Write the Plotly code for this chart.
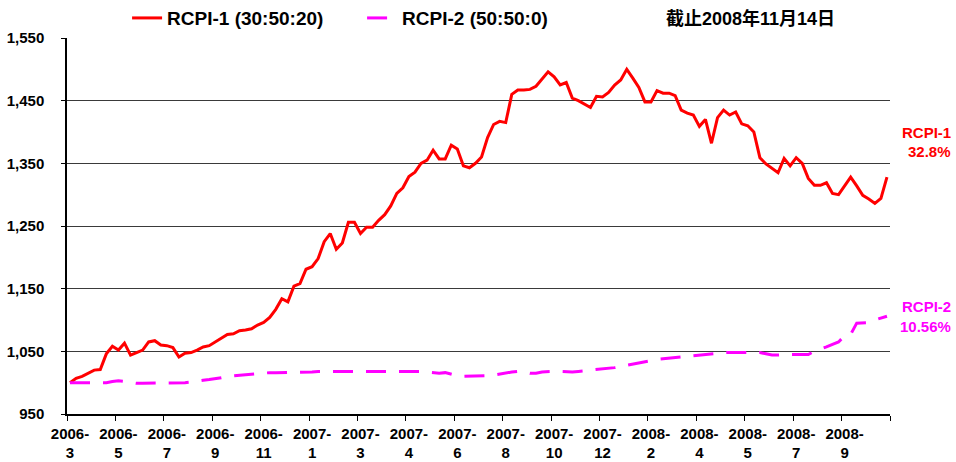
import plotly.graph_objects as go

# weekly index values (base = 1000)
rcpi1 = [
    1000, 1007, 1010, 1015, 1020, 1021, 1046, 1058, 1052, 1063,
    1044, 1048, 1052, 1065, 1067, 1060, 1059, 1056, 1041, 1047,
    1048, 1052, 1057, 1059, 1065, 1071, 1077, 1078, 1083, 1084,
    1086, 1092, 1096, 1104, 1117, 1134, 1129, 1154, 1158, 1181,
    1185, 1198, 1225, 1238, 1213, 1223, 1256, 1256, 1238, 1248,
    1248, 1259, 1268, 1282, 1302, 1311, 1329, 1336, 1350, 1355,
    1371, 1357, 1357, 1379, 1373, 1346, 1343, 1350, 1360, 1391,
    1412, 1417, 1415, 1460, 1467, 1467, 1468, 1473, 1485, 1496,
    1488, 1475, 1479, 1454, 1450, 1445, 1439, 1457, 1456, 1463,
    1475, 1483, 1500, 1486, 1471, 1448, 1448, 1466, 1462, 1462,
    1458, 1435, 1430, 1427, 1409, 1420, 1382, 1423, 1435, 1427,
    1432, 1413, 1410, 1400, 1359, 1349, 1342, 1335, 1358, 1346,
    1359, 1350, 1326, 1315, 1315, 1319, 1302, 1300, 1314, 1328,
    1314, 1299, 1293, 1286, 1294, 1328,
]
rcpi2 = [
    1000, 1000, 1000, 1000, 1000, 1000, 1000, 1002, 1003, 1002,
    1000, 999, 999, 999, 1000, 1000, 999, 999, 999, 1000,
    1001, 1003, 1004, 1005, 1006, 1008, 1010, 1011, 1012, 1013,
    1014, 1015, 1016, 1016, 1016, 1016, 1016, 1017, 1017, 1017,
    1017, 1018, 1018, 1019, 1018, 1019, 1019, 1018, 1019, 1019,
    1019, 1019, 1019, 1019, 1019, 1019, 1019, 1018, 1018, 1017,
    1016, 1015, 1016, 1013, 1011, 1010, 1010, 1010, 1010, 1011,
    1012, 1014, 1016, 1017, 1018, 1018, 1015, 1015, 1017, 1018,
    1018, 1018, 1017, 1017, 1018, 1019, 1020, 1020, 1021, 1022,
    1024, 1026, 1028, 1030, 1032, 1034, 1036, 1037, 1038, 1039,
    1040, 1041, 1043, 1044, 1045, 1046, 1046, 1047, 1048, 1048,
    1048, 1048, 1049, 1049, 1048, 1046, 1044, 1044, 1045, 1045,
    1045, 1045, 1045, 1050, 1053, 1057, 1061, 1065, 1075, 1077,
    1095, 1095, 1096, 1100, 1103, 1106,
]
week = list(range(len(rcpi1)))

# category labels, one every 8 weeks
tick_labels = [
    "2006-<br>3", "2006-<br>5", "2006-<br>7", "2006-<br>9", "2006-<br>11",
    "2007-<br>1", "2007-<br>3", "2007-<br>4", "2007-<br>6", "2007-<br>8",
    "2007-<br>10", "2007-<br>12", "2008-<br>2", "2008-<br>4", "2008-<br>5",
    "2008-<br>7", "2008-<br>9",
]
tick_pos = [8 * k for k in range(len(tick_labels))]

FONT = "Liberation Sans, Arial, Noto Sans CJK SC, sans-serif"

fig = go.Figure()
fig.add_scatter(x=week, y=rcpi1, mode="lines", name="<b>RCPI-1 (30:50:20)</b>",
                line=dict(color="#ff0000", width=3))
fig.add_scatter(x=week, y=rcpi2, mode="lines", name="<b>RCPI-2 (50:50:0)</b>",
                line=dict(color="#ff00ff", width=3, dash="20px,13px"))

fig.update_layout(
    width=956, height=462,
    margin=dict(l=67, r=66, t=38, b=48, autoexpand=False),
    paper_bgcolor="white", plot_bgcolor="white",
    font=dict(family=FONT, color="black", size=15),
    showlegend=True,
    legend=dict(orientation="h", x=0.073, y=1.053, xanchor="left", yanchor="middle",
                font=dict(size=19, family=FONT), entrywidth=190,
                bgcolor="rgba(0,0,0,0)"),
    hovermode=False,
)
fig.update_xaxes(
    range=[-0.5, 135.5], tickmode="array", tickvals=tick_pos,
    ticktext=["<b>" + t + "</b>" for t in tick_labels],
    ticks="", showgrid=False, zeroline=False, automargin=False,
    showline=True, linecolor="black", linewidth=1.5,
    tickfont=dict(size=15, family=FONT), ticklabelstandoff=5,
    minor=dict(tickmode="array", tickvals=[p - 0.5 for p in tick_pos] + [135.5],
               ticks="outside", ticklen=5, tickcolor="black", tickwidth=1.2, showgrid=False),
)
fig.update_yaxes(
    range=[950, 1550], tickmode="linear", tick0=950, dtick=100, tickformat=",",
    tickprefix="<b>", ticksuffix="</b>",
    showgrid=True, gridcolor="#3a3a3a", gridwidth=1.2, zeroline=False, automargin=False,
    showline=True, linecolor="black", linewidth=1.5,
    ticks="outside", ticklen=4, tickcolor="black",
    tickfont=dict(size=15, family=FONT), ticklabelstandoff=14,
)

fig.add_annotation(xref="paper", yref="paper", x=0.83, y=1.053, text="<b>截止2008年11月14日</b>",
                   showarrow=False, font=dict(size=18, family=FONT, color="black"),
                   xanchor="center", yanchor="middle")
for label, yv, col in [("RCPI-1", 1400, "#ff0000"), ("32.8%", 1369, "#ff0000"),
                       ("RCPI-2", 1122, "#ff00ff"), ("10.56%", 1090, "#ff00ff")]:
    fig.add_annotation(xref="paper", yref="y", x=1.077, y=yv, text="<b>" + label + "</b>",
                       showarrow=False, font=dict(size=15, family=FONT, color=col),
                       xanchor="right", yanchor="middle")

# drop the page's default body margin so the figure sits at the window corner
fig.write_html("out.html", config={"displayModeBar": False},
               post_script="document.body.style.margin='0';")
